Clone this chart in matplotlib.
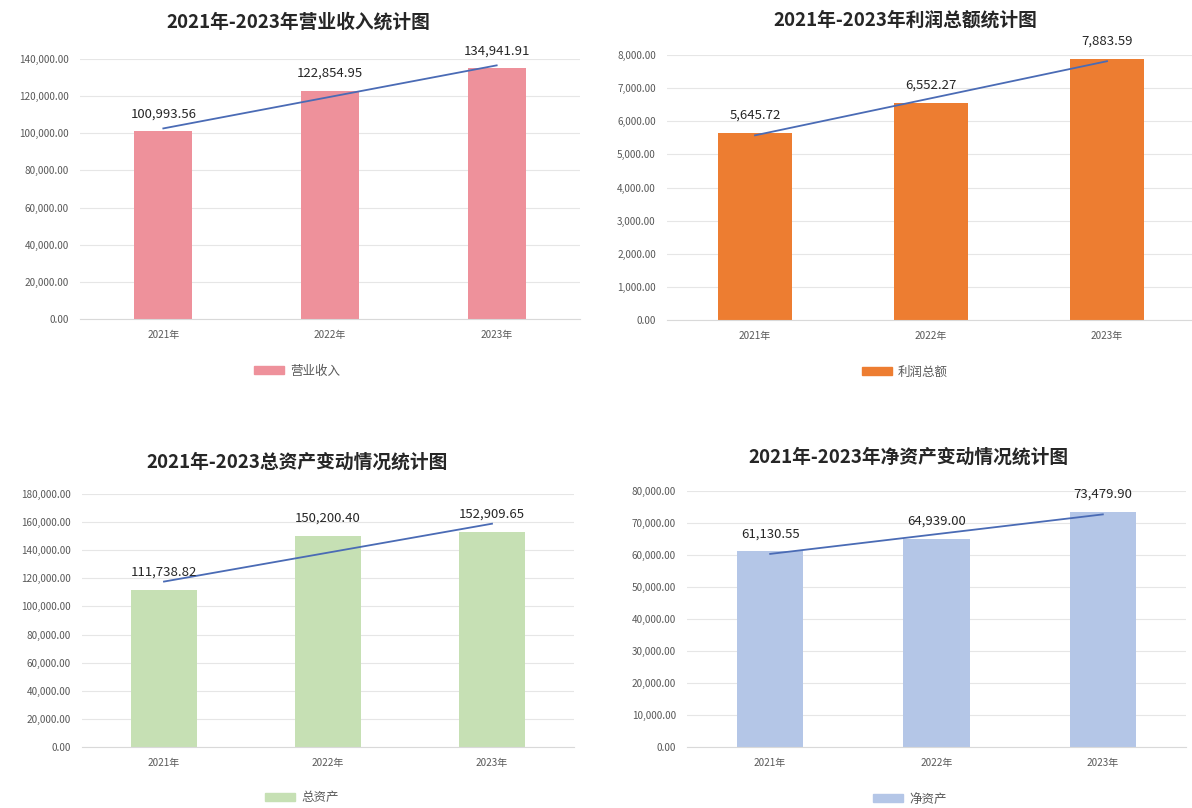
import numpy as np
import matplotlib.pyplot as plt
from matplotlib.patches import Patch
from matplotlib.ticker import FuncFormatter

plt.rcParams['font.family'] = ['Noto Sans CJK SC', 'DejaVu Sans']

years = ['2021年', '2022年', '2023年']

revenue = [100993.56, 122854.95, 134941.91]
profit = [5645.72, 6552.27, 7883.59]
assets = [111738.82, 150200.40, 152909.65]
equity = [61130.55, 64939.00, 73479.90]

titles = ['2021年-2023年营业收入统计图', '2021年-2023年利润总额统计图',
          '2021年-2023总资产变动情况统计图', '2021年-2023年净资产变动情况统计图']
names = ['营业收入', '利润总额', '总资产', '净资产']
colors = ['#EE919B', '#ED7D31', '#C6E0B4', '#B4C6E7']
series = [revenue, profit, assets, equity]

W, H = 1192, 808
fig = plt.figure(figsize=(W / 100, H / 100), dpi=100)


def px_axes(x0, x1, ytop, ybot):
    return fig.add_axes([x0 / W, 1 - ybot / H, (x1 - x0) / W, (ybot - ytop) / H])


# (x0, x1, ytop, ybot), ymax, step, bar width, title pos, legend pos
panels = [
    ((80, 580, 59, 319), 140000, 20000, 0.35, (298, 22), (297, 371)),
    ((667, 1195, 55, 320), 8000, 1000, 0.42, (905, 20), (905, 372)),
    ((82, 574, 494, 747), 180000, 20000, 0.40, (297, 462), (302, 798)),
    ((687, 1186, 491, 747), 80000, 10000, 0.40, (908, 457), (910, 799)),
]

fmt = FuncFormatter(lambda v, p: f'{v:,.2f}')

for i, (box, ymax, step, bw, tpos, lpos) in enumerate(panels):
    ax = px_axes(*box)
    vals = series[i]
    x = np.arange(1, len(years) + 1)
    ax.bar(x, vals, width=bw, color=colors[i], zorder=2)

    # linear trend line
    k, b = np.polyfit(x, vals, 1)
    ax.plot(x[[0, -1]], k * x[[0, -1]] + b, color='#4A6BB5', lw=1.3,
            zorder=3, clip_on=False)

    for xi, v in zip(x, vals):
        ax.annotate(f'{v:,.2f}', (xi, v), xytext=(0, 8), textcoords='offset points',
                    ha='center', va='bottom', fontsize=9.5, color='#262626',
                    annotation_clip=False)

    ax.set_xlim(0.5, 3.5)
    ax.set_ylim(0, ymax)
    ax.set_yticks(np.arange(0, ymax + 1, step))
    ax.yaxis.set_major_formatter(fmt)
    ax.set_xticks(x)
    ax.set_xticklabels(years)
    ax.tick_params(length=0, labelsize=7.2, colors='#595959', pad=8)
    ax.grid(axis='y', color='#E6E6E6', lw=0.8, zorder=0)
    for s in ['top', 'right', 'left']:
        ax.spines[s].set_visible(False)
    ax.spines['bottom'].set_color('#D9D9D9')

    fig.text(tpos[0] / W, 1 - tpos[1] / H, titles[i], ha='center', va='center',
             fontsize=13.5, fontweight='bold', color='#262626')
    fig.legend(handles=[Patch(color=colors[i], label=names[i])], loc='center',
               bbox_to_anchor=(lpos[0] / W, 1 - lpos[1] / H), frameon=False,
               fontsize=9, handlelength=2.4, handleheight=0.65, handletextpad=0.5,
               labelcolor='#595959')

fig.savefig('out.png', dpi=100)
